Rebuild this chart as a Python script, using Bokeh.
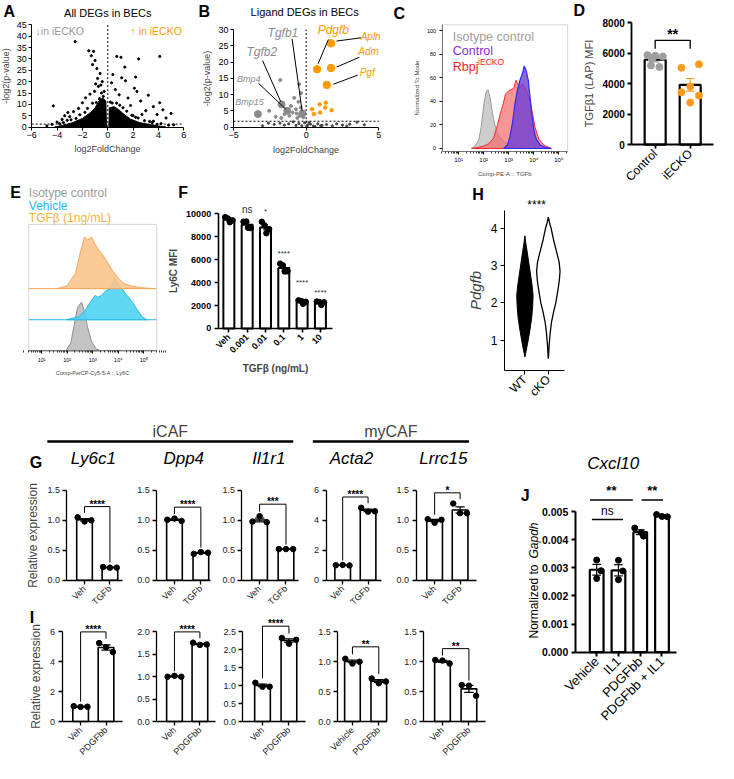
import math
from bokeh.plotting import figure
from bokeh.layouts import row, column
from bokeh.models import Label, Range1d, FixedTicker, Spacer, PrintfTickFormatter, BoxAnnotation
from bokeh.embed import file_html
from bokeh.resources import INLINE

FONT = "Liberation Sans"
K = 0.975


def S(v):
    return int(round(v * K))


# ======================= DATA =======================
# A: all DEGs in BECs (sparse points) + outline of the dense point clouds
a_pts_x = [-2.57, -1.12, -1.5, -1.3, -1.0, -0.86, -0.6, -0.8, -0.43, -0.74, -1.04, -0.28, -1.75, -2.0,
           -4.3, -3.15, -3.4, -1.2, -0.95, -0.55, -0.35, -1.4, -0.65, -2.3, -2.7, -3.6, -4.0, -3.0,
           0.71, 1.04, 2.44, 4.1, 2.2, 1.35, 1.1, 0.4, 1.4, 2.1, 2.3, 3.2, 4.1, 4.35, 5.0, 3.6, 0.6,
           0.9, 1.6, 2.6, 3.6, 3.0, 2.7, 4.6, 3.9, 0.3, 1.8,
           -3.8, -3.2, -2.5, -1.8, -1.2, -0.5, 0.2, 0.7, 1.2, 1.5, 2.0, 2.4, 3.3, 4.2, 4.8, -4.8, 5.2,
           -4.4, -3.5, -2.9, -2.2, -1.6, -0.9, 0.35, 0.95, 1.9, 2.2, 2.9, 3.5, 3.9]
a_pts_y = [37.6, 33.3, 33.6, 31.4, 29.3, 25.7, 23.6, 21.4, 20.0, 17.9, 15.7, 15.7, 12.9, 10.7,
           9.3, 6.4, 5.0, 27.5, 19.0, 18.5, 13.5, 14.5, 12.5, 8.2, 6.8, 3.4, 2.2, 4.6,
           31.1, 30.7, 30.0, 31.1, 22.0, 26.4, 21.7, 23.1, 20.4, 17.1, 15.7, 14.0, 10.7, 7.6, 6.0, 2.6, 16.5,
           14.2, 12.8, 11.5, 9.0, 7.2, 5.5, 4.0, 5.5, 19.5, 9.5,
           1.5, 3.0, 3.8, 6.5, 10.5, 15.0, 11.0, 10.5, 8.5, 7.0, 5.0, 4.0, 2.5, 1.5, 0.8, 0.5, 1.0,
           1.2, 2.0, 3.2, 5.4, 8.2, 10.8, 10.6, 9.6, 5.2, 4.3, 2.8, 2.0, 1.2]
a_cloud_l_x = [-4.2, -3.6, -2.8, -2.0, -1.4, -1.0, -0.7, -0.4, -0.15, -0.1]
a_cloud_l_y = [0, 0.7, 1.9, 3.8, 6.2, 8.4, 11.5, 12.8, 11.5, 0]
a_cloud_r_x = [0.1, 0.12, 0.5, 0.9, 1.3, 1.8, 2.5, 3.2, 4.0, 4.6]
a_cloud_r_y = [0, 8.5, 9.0, 7.5, 5.5, 3.5, 2.0, 1.2, 0.5, 0]

# B: ligand DEGs in BECs
b_gray_x = [-1.78, -0.48, -0.82, -0.53, -1.04, -0.7, -1.49, -0.93, -0.66, -0.44, -2.54, -1.71, -0.6,
            -0.37, -1.15, -0.2, -0.35, -2.1]
b_gray_y = [14.5, 13.2, 9.0, 7.8, 6.5, 5.5, 4.0, 4.5, 4.2, 3.5, 5.0, 2.8, 2.8, 6.0, 3.5, 3.0, 10.5, 3.2]
b_orange_x = [0.41, 0.93, 1.31, 0.96, 1.75, 0.53, 1.35]
b_orange_y = [5.5, 7.0, 6.0, 4.5, 5.2, 4.0, 7.5]
b_low_x = [-3.0, -2.2, -1.8, -1.5, -1.2, -0.9, -0.7, -0.5, -0.3, -0.1, 0.05, 0.1, 0.3, 0.5, 0.8, 1.1,
           1.4, 1.8, 2.1, 2.5, 2.8, 3.0, 3.5, 4.0, -2.6, 0.2, 0.6, 1.0]
b_low_y = [0.4, 0.8, 1.2, 0.6, 1.0, 1.6, 0.5, 1.1, 0.4, 1.3, 0.2, 0.6, 0.9, 0.3, 1.0, 0.5,
           0.8, 0.4, 1.0, 0.6, 0.3, 0.9, 1.5, 0.7, 1.2, 1.4, 0.2, 0.4]
b_down_genes = ["Tgfb1", "Tgfb2", "Bmp4", "Bmp15"]
b_down_x = [-0.26, -1.69, -1.3, -3.32]
b_down_y = [4.2, 7.0, 5.0, 4.0]
b_up_genes = ["Pdgfb", "Apln", "Adm", "Pgf"]
b_up_x = [0.75, 1.71, 1.71, 1.42]
b_up_y = [17.8, 25.8, 18.2, 13.0]

# C: flow histograms (log10 TGFb, % of mode)
c_iso_x = [1.5, 1.65, 1.8, 1.9, 2.0, 2.1, 2.17, 2.25, 2.35, 2.45, 2.55, 2.7, 2.85, 3.0, 3.2, 3.4, 3.6]
c_iso_y = [0, 2, 7, 18, 36, 48, 50, 44, 30, 20, 13, 8, 5, 4, 3, 1.5, 0]
c_ko_x = [1.55, 1.8, 2.0, 2.2, 2.4, 2.55, 2.67, 2.78, 2.87, 3.0, 3.1, 3.2, 3.29, 3.38, 3.45, 3.55,
          3.65, 3.75, 3.85, 3.95, 4.05, 4.2, 4.4, 4.7]
c_ko_y = [0, 1, 2, 4, 9, 20, 30, 38, 46, 49, 50, 51, 58, 54, 51, 55, 52, 47, 40, 30, 18, 8, 3, 0]
c_ctrl_x = [2.8, 2.95, 3.05, 3.15, 3.25, 3.35, 3.45, 3.55, 3.62, 3.7, 3.78, 3.86, 3.94, 4.02, 4.1,
            4.25, 4.45, 4.7]
c_ctrl_y = [0, 3, 10, 22, 38, 50, 58, 64, 70, 66, 58, 42, 26, 14, 8, 3, 1, 0]

# D: TGFb1 (LAP) MFI
d_groups = ["Control", "iECKO"]
d_control = [5880, 5840, 5790, 5660, 5200, 5100]
d_iecko = [5050, 5280, 3820, 3440, 3225, 2760]

# E: Ly6C histograms (log10 Ly6C, relative height)
e_tgf_x = [1.6, 1.68, 2.0, 2.33, 2.5, 2.68, 2.8, 2.95, 3.1, 3.2, 3.35, 3.48, 3.6, 3.78, 3.9, 4.05,
           4.25, 4.47, 4.85, 5.4]
e_tgf_y = [0, 0.5, 3, 16, 36, 53, 50, 53, 45, 41, 36, 31, 26, 18, 14, 9, 5, 3, 1, 0]
e_veh_x = [1.95, 2.45, 2.71, 2.95, 3.1, 3.2, 3.33, 3.52, 3.71, 3.86, 4.05, 4.28, 4.55, 4.74, 4.93, 5.12]
e_veh_y = [0, 3, 10, 20, 25, 23, 25, 30, 32, 42, 35, 27, 18, 10, 3, 0]
e_iso_x = [1.95, 2.14, 2.26, 2.41, 2.56, 2.68, 2.79, 2.95, 3.13, 3.33]
e_iso_y = [0, 8, 25, 45, 50, 40, 25, 10, 2, 0]

# F: Ly6C MFI vs TGFb dose
f_doses = ["Veh", "0.001", "0.01", "0.1", "1", "10"]
f_values = [[9700, 9580, 9420, 9260], [9300, 9320, 8750, 8780], [9300, 8980, 8650, 8300],
            [5650, 5500, 4980, 4960], [2450, 2400, 2330, 2150], [2350, 2300, 2280, 2050]]
f_sig = ["", "ns", "*", "****", "****", "****"]

# H: Pdgfb violin (value, half width)
h_wt_y = [0.55, 0.8, 1.0, 1.3, 1.6, 1.9, 2.2, 2.5, 2.8, 3.1, 3.4, 3.6, 3.8]
h_wt_w = [0, 0.08, 0.14, 0.22, 0.29, 0.33, 0.35, 0.3, 0.23, 0.16, 0.09, 0.04, 0]
h_cko_y = [0.5, 0.9, 1.2, 1.5, 1.8, 2.0, 2.3, 2.6, 2.85, 3.1, 3.4, 3.7, 4.0, 4.15, 4.3]
h_cko_w = [0, 0.04, 0.08, 0.14, 0.24, 0.32, 0.4, 0.47, 0.5, 0.46, 0.34, 0.22, 0.12, 0.05, 0]
h_groups = ["WT", "cKO"]

# G / I: relative expression
genes = ["Ly6c1", "Dpp4", "Il1r1", "Acta2", "Lrrc15"]
g_veh = [[1.05, 0.98, 1.0], [1.01, 1.03, 0.99], [0.98, 1.07, 0.97], [1.0, 1.02, 0.99], [1.02, 0.96, 1.01]]
g_tgfb = [[0.22, 0.21, 0.21], [0.44, 0.47, 0.46], [0.52, 0.52, 0.52], [4.84, 4.58, 4.6], [1.28, 1.12, 1.12]]
g_sig = ["****", "****", "***", "****", "*"]
g_axis_max = [1.5, 1.5, 1.5, 6, 1.5]
g_tick_step = [0.5, 0.5, 0.5, 2, 0.5]
g_labels = [["Veh", "TGFb"]] * 5
i_veh = [[1.03, 0.98, 0.99], [1.0, 1.02, 1.0], [1.08, 0.97, 0.97], [1.05, 0.97, 1.0], [1.03, 1.02, 0.97]]
i_pdgf = [[5.25, 4.98, 4.65], [1.76, 1.71, 1.72], [2.33, 2.17, 2.28], [0.72, 0.64, 0.67], [0.61, 0.6, 0.43]]
i_sig = ["****", "****", "****", "**", "**"]
i_axis_max = [6, 2.0, 2.5, 1.5, 1.5]
i_tick_step = [2, 0.5, 0.5, 0.5, 0.5]
i_labels = [["Veh", "PDGFbb"], ["Veh", "PDGFbb"], ["Veh", "PDGFbb"], ["Vehicle", "PDGFbb"], ["Veh", "PDGFbb"]]

# J: Cxcl10 normalized to Gapdh
j_groups = ["Vehicle", "IL1", "PDGFbb", "PDGFbb + IL1"]
j_values = [[0.00328, 0.00290, 0.00262], [0.00327, 0.00289, 0.00258],
            [0.00442, 0.00426, 0.00413], [0.00490, 0.00483, 0.00482]]

# ======================= HELPERS =======================
GEOM = {}


def mk(ox, oy, W, H, fl, fr, ft, fb, xr, yr):
    """Figure covering canvas (ox,oy,W,H) (reference px); the axes' region fl..fr / ft..fb
    shows data xr / yr. Axes are pinned at the region's lower-left edges."""
    ppx = (fr - fl) / (xr[1] - xr[0])
    ppy = (fb - ft) / (yr[1] - yr[0])
    X0 = xr[0] - (fl - ox) / ppx
    X1 = xr[1] + (ox + W - fr) / ppx
    Y0 = yr[0] - (oy + H - fb) / ppy
    Y1 = yr[1] + (ft - oy) / ppy
    p = figure(width=S(W), height=S(H), x_range=Range1d(X0, X1), y_range=Range1d(Y0, Y1),
               output_backend="svg", toolbar_location=None, min_border=0)
    p.xgrid.visible = False
    p.ygrid.visible = False
    p.outline_line_color = None
    GEOM[p.id] = (ox, oy, W, H, X0, X1, Y0, Y1)
    p.xaxis.fixed_location = yr[0]
    p.yaxis.fixed_location = xr[0]
    p.xaxis.bounds = tuple(xr)
    p.yaxis.bounds = tuple(yr)
    for ax in (p.xaxis[0], p.yaxis[0]):
        ax.axis_line_color = "black"
        ax.axis_line_width = 1.3
        ax.major_tick_line_width = 1.3
        ax.major_tick_out = 4
        ax.major_tick_in = 0
        ax.minor_tick_line_color = None
        ax.major_label_standoff = 3
        ax.major_label_text_font = FONT
        ax.major_label_text_color = "black"
        ax.axis_label_text_font = FONT
        ax.axis_label_text_font_style = "normal"
        ax.axis_label_standoff = 4
    return p


def txt(p, rx, ry, text, size, color="black", style="normal", align="left", baseline="middle", angle=0):
    ox, oy, W, H, X0, X1, Y0, Y1 = GEOM[p.id]
    x = X0 + (rx - ox) / W * (X1 - X0)
    y = Y1 - (ry - oy) / H * (Y1 - Y0)
    p.add_layout(Label(x=x, y=y, text=text, text_font=FONT, text_font_size=f"{size}px", text_color=color,
                       text_font_style=style, text_align=align, text_baseline=baseline, angle=angle))


def dtxt(p, x, y, text, size, color="black", style="normal", align="center", baseline="middle", yoff=0):
    p.add_layout(Label(x=x, y=y, text=text, text_font=FONT, text_font_size=f"{size}px",
                       text_color=color, text_font_style=style, text_align=align,
                       text_baseline=baseline, y_offset=yoff))


def xrange_px(axis, b1, b2, end):
    u = b2 - b1
    s = 1 - (b1 - axis) / u
    return (s, s + (end - axis) / u)


def sem(g):
    m = sum(g) / len(g)
    return (sum((v - m) ** 2 for v in g) / (len(g) - 1)) ** 0.5 / len(g) ** 0.5


def bar_panel(p, groups, jit, width, colors, psize=5.5, lw=1.8, cap=0.15, x0=1):
    xs = list(range(x0, x0 + len(groups)))
    means = [sum(g) / len(g) for g in groups]
    sems = [sem(g) for g in groups]
    lo = [m - s for m, s in zip(means, sems)]
    hi = [m + s for m, s in zip(means, sems)]
    p.vbar(x=xs, top=means, width=width, fill_color="white", line_color="black", line_width=lw)
    p.segment(x0=xs, y0=lo, x1=xs, y1=hi, line_color=colors, line_width=1.2)
    p.segment(x0=[x - cap for x in xs], y0=hi, x1=[x + cap for x in xs], y1=hi, line_color=colors, line_width=1.2)
    p.segment(x0=[x - cap for x in xs], y0=lo, x1=[x + cap for x in xs], y1=lo, line_color=colors, line_width=1.2)
    px, py, pc = [], [], []
    for x, g, c, j in zip(xs, groups, colors, jit):
        for v, o in zip(g, j):
            px.append(x + o)
            py.append(v)
            pc.append(c)
    p.scatter(px, py, size=psize, color=pc)
    return means


def set_ticks(ax, ticks, labels=None, size="9px", bold=False, color="black"):
    ax.ticker = FixedTicker(ticks=ticks)
    if labels is not None:
        ax.major_label_overrides = {t: l for t, l in zip(ticks, labels)}
    ax.major_label_text_font_size = size
    ax.major_label_text_font_style = "bold" if bold else "normal"
    ax.major_label_text_color = color


SUP = {1: "10\u00b9", 2: "10\u00b2", 3: "10\u00b3", 4: "10\u2074", 5: "10\u2075"}
LOG_MINOR = [d + math.log10(m) for d in range(0, 6) for m in range(2, 10)]
GRAY = "#999999"
ORANGE = "#FF9900"

# ======================= PANEL A =======================
pa = mk(0, 0, 200, 190, 32, 188, 25, 130, (-6, 6), (0, 45))
set_ticks(pa.xaxis[0], [-6, -4, -2, 0, 2, 4, 6], size="9px")
set_ticks(pa.yaxis[0], list(range(0, 50, 5)), size="9px")
pa.xaxis.axis_label = "log2FoldChange"
pa.yaxis.axis_label = "-log2(p-value)"
for ax in (pa.xaxis[0], pa.yaxis[0]):
    ax.axis_label_text_font_size = "9px"
    ax.axis_line_width = 1
    ax.major_tick_line_width = 1
    ax.major_tick_out = 3
    ax.major_label_standoff = 2
    ax.axis_label_standoff = 2
pa.patch(a_cloud_l_x, a_cloud_l_y, color="black")
pa.patch(a_cloud_r_x, a_cloud_r_y, color="black")
pa.scatter(a_pts_x, a_pts_y, size=2.2, color="black")
pa.line([0, 0], [0, 45], line_dash="2 2", line_color="black", line_width=1)
pa.line([-6, 6], [1.3, 1.3], line_dash="2 2", line_color="black", line_width=1)
txt(pa, 3, 11, "A", 16, style="bold")
txt(pa, 110, 13, "All DEGs in BECs", 11, align="center")
txt(pa, 36, 31, "\u2193in iECKO", 10.5, color=GRAY)
txt(pa, 186, 31, "\u2191 in iECKO", 10.5, color=ORANGE, align="right")

# ======================= PANEL B =======================
pb = mk(200, 0, 200, 190, 239, 388, 30, 130, (-5, 5), (0, 30))
set_ticks(pb.xaxis[0], [-5, 0, 5], size="9px")
set_ticks(pb.yaxis[0], list(range(0, 35, 5)), size="9px")
pb.xaxis.axis_label = "log2FoldChange"
pb.yaxis.axis_label = "-log2(p-value)"
for ax in (pb.xaxis[0], pb.yaxis[0]):
    ax.axis_label_text_font_size = "9px"
    ax.axis_line_width = 1
    ax.major_tick_line_width = 1
    ax.major_tick_out = 3
    ax.major_label_standoff = 2
    ax.axis_label_standoff = 3
pb.line([0, 0], [0, 30], line_dash="2 2", line_color="black", line_width=1)
pb.line([-5, 5], [1.8, 1.8], line_dash="2 2", line_color="black", line_width=1)
pb.scatter(b_low_x, b_low_y, size=2.2, color="#444444")
pb.scatter(b_gray_x, b_gray_y, size=3, color="#8a8a8a")
pb.scatter(b_orange_x, b_orange_y, size=3.5, color=ORANGE)
pb.scatter(b_down_x, b_down_y, size=7, color="#8a8a8a")
pb.scatter(b_up_x, b_up_y, size=7.5, color=ORANGE)
# gene labels (text centre, font size) and leader lines
b_dlab = [(-1.6, 29.0, 12, (-0.97, 27.2, -0.28, 5.0)), (-3.05, 23.0, 12, (-3.0, 20.5, -1.75, 7.8)),
          (-3.95, 14.7, 9, (-3.28, 13.5, -1.4, 5.5)), (-3.9, 7.8, 9, None)]
b_ulab = [(1.87, 29.8, 12, (1.53, 27.0, 0.82, 19.5)), (4.44, 27.8, 10, (2.09, 26.5, 3.77, 27.5)),
          (4.3, 23.2, 10, (2.09, 18.5, 3.66, 21.5)), (4.2, 16.8, 10, (1.87, 13.2, 3.55, 16.0))]
for g, (lx, ly, fs, ln) in zip(b_down_genes, b_dlab):
    dtxt(pb, lx, ly, g, fs, color="#8a8a8a", style="italic")
    if ln:
        pb.line([ln[0], ln[2]], [ln[1], ln[3]], line_color="black", line_width=1)
for g, (lx, ly, fs, ln) in zip(b_up_genes, b_ulab):
    dtxt(pb, lx, ly, g, fs, color=ORANGE, style="italic")
    pb.line([ln[0], ln[2]], [ln[1], ln[3]], line_color="black", line_width=1)
txt(pb, 203, 11, "B", 16, style="bold")
txt(pb, 312, 12, "Ligand DEGs in BECs", 11, align="center")

# ======================= PANEL C =======================
pc = mk(400, 0, 185, 190, 453, 582, 25, 155, (0.34, 5.35), (-2.5, 105))
pc.add_layout(BoxAnnotation(left=0.34, right=5.35, bottom=-2.5, top=105, fill_alpha=0,
                            line_color="#777777", line_width=1))
pc.xaxis.ticker = FixedTicker(ticks=[1, 2, 3, 4, 5], minor_ticks=LOG_MINOR)
pc.xaxis.major_label_overrides = SUP
pc.xaxis.minor_tick_line_color = "#333333"
pc.xaxis.minor_tick_out = 2
set_ticks(pc.yaxis[0], [0, 20, 40, 60, 80, 100], size="5.5px")
pc.xaxis.major_label_text_font_size = "6px"
pc.xaxis.axis_label = "Comp-PE-A :: TGFb"
pc.yaxis.axis_label = "Normalized To Mode"
for ax in (pc.xaxis[0], pc.yaxis[0]):
    ax.axis_label_text_font_size = "6px"
    ax.axis_line_color = "#777777"
    ax.axis_line_width = 1
    ax.major_tick_line_width = 1
    ax.major_tick_out = 3
pc.patch(c_iso_x, c_iso_y, fill_color="#c4c4c4", fill_alpha=0.85, line_color="#9a9a9a", line_width=1)
pc.patch(c_ko_x, c_ko_y, fill_color="#f26a6a", fill_alpha=0.7, line_color="#ff2a2a", line_width=1)
pc.patch(c_ctrl_x, c_ctrl_y, fill_color="#6e3fd6", fill_alpha=0.8, line_color="#2b2bff", line_width=1.2)
txt(pc, 403, 13, "C", 16, style="bold")
txt(pc, 464, 37, "Isotype control", 12.5, color="#a0a0a0")
txt(pc, 464, 52, "Control", 12.5, color="#8a2be2")
txt(pc, 464, 68, "Rbpj", 12.5, color="#ff2020")
txt(pc, 490, 63, "iECKO", 8.5, color="#ff2020")

# ======================= PANEL D =======================
pdd = mk(585, 0, 149, 190, 648, 732, 23, 148, (0.333, 2.667), (0, 8000))
set_ticks(pdd.yaxis[0], [0, 2000, 4000, 6000, 8000], size="10px", bold=True)
set_ticks(pdd.xaxis[0], [1, 2], d_groups, size="12px")
pdd.xaxis.major_label_orientation = math.pi / 4
pdd.yaxis.axis_label = "TGF\u03b21 (LAP) MFI"
pdd.yaxis.axis_label_text_font_size = "11px"
for ax in (pdd.xaxis[0], pdd.yaxis[0]):
    ax.axis_line_width = 1.8
    ax.major_tick_line_width = 1.8
d_col = ["#9e9e9e", "#FF9A1F"]
bar_panel(pdd, [d_control, d_iecko],
          [[-0.22, 0.0, 0.22, -0.1, -0.12, 0.12], [-0.25, 0.25, 0.0, -0.25, 0.25, 0.0]],
          0.6, d_col, psize=7, lw=2.2, cap=0.12)
pdd.line([1, 1, 2, 2], [6300, 6850, 6850, 6300], line_color="black", line_width=1.3)
dtxt(pdd, 1.5, 6850, "**", 14, style="bold", baseline="bottom", yoff=-2)
txt(pdd, 588, 10, "D", 16, style="bold")

# ======================= PANEL E =======================
pe = mk(0, 190, 170, 220, 29, 160, 230, 360, (0.5, 5.5), (0, 130))
pe.add_layout(BoxAnnotation(left=0.5, right=5.5, bottom=0, top=130, fill_alpha=0,
                            line_color="#777777", line_width=1))
pe.yaxis.visible = False
pe.xaxis.ticker = FixedTicker(ticks=[1, 2, 3, 4, 5], minor_ticks=LOG_MINOR)
pe.xaxis.major_label_overrides = SUP
pe.xaxis.major_label_text_font_size = "5.5px"
pe.xaxis.minor_tick_line_color = "#333333"
pe.xaxis.minor_tick_out = 2
pe.xaxis.axis_line_color = "#777777"
pe.xaxis.axis_line_width = 1
pe.xaxis.major_tick_line_width = 1
pe.xaxis.major_tick_out = 3
pe.xaxis.axis_label = "Comp-PerCP-Cy5-5-A :: Ly6C"
pe.xaxis.axis_label_text_font_size = "5.5px"
e_base = [0, 32, 64]
for hx, hy, base, fc, lc in [(e_iso_x, e_iso_y, e_base[0], "#bdbdbd", "#8f8f8f"),
                             (e_veh_x, e_veh_y, e_base[1], "#4fd3f2", "#2ab8e6"),
                             (e_tgf_x, e_tgf_y, e_base[2], "#fbc48c", "#f2a760")]:
    pe.line([0.5, 5.5], [base, base], line_color=lc, line_width=1)
    pe.patch(hx, [base + v for v in hy], fill_color=fc, fill_alpha=0.9, line_color=lc, line_width=1)
txt(pe, 10, 197, "E", 16, style="bold")
txt(pe, 29, 198, "Isotype control", 12, color="#9a9a9a")
txt(pe, 29, 211, "Vehicle", 12, color="#29B6F6")
txt(pe, 29, 223, "TGF\u03b2 (1ng/mL)", 12, color="#F5B335")

# ======================= PANEL F =======================
pf = mk(170, 190, 195, 220, 223, 340, 219, 337, (-0.585, 5.64), (0, 10000))
set_ticks(pf.yaxis[0], [0, 2000, 4000, 6000, 8000, 10000], size="9px", bold=True)
set_ticks(pf.xaxis[0], list(range(6)), f_doses, size="9px", bold=True)
pf.xaxis.major_label_orientation = math.pi / 4
pf.yaxis.axis_label = "Ly6C MFI"
pf.xaxis.axis_label = "TGF\u03b2 (ng/mL)"
for ax in (pf.xaxis[0], pf.yaxis[0]):
    ax.axis_label_text_font_size = "10px"
    ax.axis_label_text_font_style = "bold"
    ax.axis_line_width = 1.6
    ax.major_tick_line_width = 1.6
pf.xaxis.axis_label_standoff = 2
f_jit = [[-0.2, -0.05, 0.2, 0.05]] * 6
bar_panel(pf, f_values, f_jit, 0.6, ["black"] * 6, psize=5.5, lw=2, cap=0.12, x0=0)
f_sig_h = [0, 10340, 10150, 6515, 3966, 3116]
for x, s, h in zip(range(6), f_sig, f_sig_h):
    if s:
        dtxt(pf, x, h, s, 10 if s == "ns" else 8, color="#333333")
txt(pf, 182, 197, "F", 16, style="bold")

# ======================= PANEL H =======================
ph = mk(470, 190, 130, 220, 517, 578, 234, 349, (0.125, 2.67), (1, 4))
ph.xaxis.fixed_location = 0.19
ph.yaxis.bounds = (0.19, 4.49)
set_ticks(ph.yaxis[0], [1, 2, 3, 4], size="12px")
set_ticks(ph.xaxis[0], [1, 2], h_groups, size="12px")
ph.xaxis.major_label_orientation = math.pi / 4
ph.yaxis.axis_label = "Pdgfb"
ph.yaxis.axis_label_text_font_size = "15px"
ph.yaxis.axis_label_text_font_style = "italic"
for ax in (ph.xaxis[0], ph.yaxis[0]):
    ax.axis_line_width = 1
    ax.major_tick_line_width = 1
ph.patch([1 + w for w in h_wt_w] + [1 - w for w in reversed(h_wt_w)], h_wt_y + list(reversed(h_wt_y)),
         fill_color="black", line_color="black", line_width=1)
ph.patch([2 + w for w in h_cko_w] + [2 - w for w in reversed(h_cko_w)], h_cko_y + list(reversed(h_cko_y)),
         fill_color="white", line_color="black", line_width=1.3)
txt(ph, 550, 210, "****", 12, align="center")
txt(ph, 484, 199, "H", 16, style="bold")

# ======================= HEADER (iCAF / myCAF) =======================
hd = figure(width=S(500), height=S(48), x_range=Range1d(0, 500), y_range=Range1d(58, 10),
            output_backend="svg", toolbar_location=None, x_axis_type=None, y_axis_type=None, min_border=0)
hd.outline_line_color = None
hdr_names = ["iCAF", "myCAF"]
hdr_span = [(48, 300), (320, 480)]
for nm, (hx0, hx1) in zip(hdr_names, hdr_span):
    hd.line([hx0, hx1], [53, 53], line_color="black", line_width=2.5)
    hd.add_layout(Label(x=(hx0 + hx1) / 2, y=43, text=nm, text_font=FONT, text_font_size="16px",
                        text_align="center", text_baseline="middle"))

# ======================= PANELS G / I =======================
cols = [(0, 130, (68, 86, 112, 125), (63, 82, 108, 125)),
        (130, 92, (160, 178, 205, 215), (160, 178, 204, 220)),
        (222, 93, (247, 265, 292, 305), (248, 268, 295, 312)),
        (315, 85, (333, 350, 376, 390), (345, 360, 387, 395)),
        (400, 100, (425, 444, 470, 487), (433, 452, 479, 496))]
g_br_h = [1.23, 1.22, 1.27, 5.56, 1.46]
i_br_h = [6.0, 2.0, 2.66, 1.25, 1.22]
jit3 = [-0.27, 0.0, 0.27]
gfigs, ifigs = [], []
for k, (x0, W, gp, ip) in enumerate(cols):
    for which, pos in (("G", gp), ("I", ip)):
        axis, b1, b2, end = pos
        if which == "G":
            top, step = g_axis_max[k], g_tick_step[k]
            H, oy, ft, fb = 167, 458, 503, 595
            grp, labs = [g_veh[k], g_tgfb[k]], g_labels[k]
            sig, bh = g_sig[k], g_br_h[k]
        else:
            top, step = i_axis_max[k], i_tick_step[k]
            H, oy, ft, fb = 154, 625, 648, 740
            grp, labs = [i_veh[k], i_pdgf[k]], i_labels[k]
            sig, bh = i_sig[k], i_br_h[k]
        p = mk(x0, oy, W, H, axis, end, ft, fb, xrange_px(axis, b1, b2, end), (0, top))
        nt = int(round(top / step))
        ticks = [round(step * t, 3) for t in range(nt + 1)]
        tl = [("%.1f" % t) if step < 1 else ("%d" % t) for t in ticks]
        set_ticks(p.yaxis[0], ticks, tl, size="9px", color="#222222")
        set_ticks(p.xaxis[0], [1, 2], labs, size="9px", color="#222222")
        p.xaxis.major_label_orientation = math.pi / 4
        bar_panel(p, grp, [jit3, jit3], 16 / (b2 - b1), ["black", "black"], psize=5.5, lw=1.6, cap=0.18)
        pad = 0.05 * top
        p.line([1, 1, 2, 2], [max(grp[0]) + pad, bh, bh, max(grp[1]) + pad], line_color="black", line_width=1)
        dtxt(p, 1.5, bh, sig, 10, style="bold", baseline="bottom", yoff=-3)
        if k == 0:
            p.yaxis.axis_label = "Relative expression"
            p.yaxis.axis_label_text_font_size = "12px"
        if which == "G":
            txt(p, (b1 + b2) / 2 - 4, 470, genes[k], 17, style="italic", align="center")
            gfigs.append(p)
        else:
            ifigs.append(p)
txt(gfigs[0], 30, 474, "G", 16, style="bold")
txt(ifigs[0], 30, 633, "I", 16, style="bold")

# ======================= PANEL J =======================
pj = mk(500, 410, 234, 369, 588, 692, 525, 669, (0.015, 4.67), (0, 0.005))
set_ticks(pj.yaxis[0], [0, 0.001, 0.002, 0.003, 0.004, 0.005], size="10.5px", bold=True)
pj.yaxis.formatter = PrintfTickFormatter(format="%.3f")
set_ticks(pj.xaxis[0], [1, 2, 3, 4], j_groups, size="13px")
pj.xaxis.major_label_orientation = math.pi / 4
for ax in (pj.xaxis[0], pj.yaxis[0]):
    ax.axis_line_width = 2
    ax.major_tick_line_width = 2
# y-axis title with the gene name in italics
txt(pj, 546, 655, "Normalized to", 12, angle=math.pi / 2)
txt(pj, 546, 573, "Gapdh", 12, style="italic", angle=math.pi / 2)
bar_panel(pj, j_values, [[0, 0.2, 0], [0, 0.2, 0], [-0.25, 0.05, 0.15], [-0.25, 0, 0.25]], 0.63,
          ["black"] * 4, psize=6, lw=2.2, cap=0.2)
j_sig_lines = [(0.78, 2.21, 0.00472, "ns"), (0.69, 2.66, 0.00542, "**"), (3.06, 4.05, 0.00542, "**")]
for sx0, sx1, h, s in j_sig_lines:
    pj.line([sx0, sx1], [h, h], line_color="black", line_width=1.5)
    dtxt(pj, (sx0 + sx1) / 2, h, s, 12 if s == "ns" else 13, style="normal" if s == "ns" else "bold",
         baseline="bottom", yoff=2)
txt(pj, 627, 476, "Cxcl10", 17, style="italic", align="center")
txt(pj, 532, 508, "J", 16, style="bold")

# ======================= LAYOUT =======================
layout = column(
    row(pa, pb, pc, pdd),
    row(pe, pf, Spacer(width=S(105), height=S(220)), ph),
    row(column(hd, row(*gfigs), row(*ifigs)), pj),
)

open("out.html", "w").write(file_html(layout, INLINE))
